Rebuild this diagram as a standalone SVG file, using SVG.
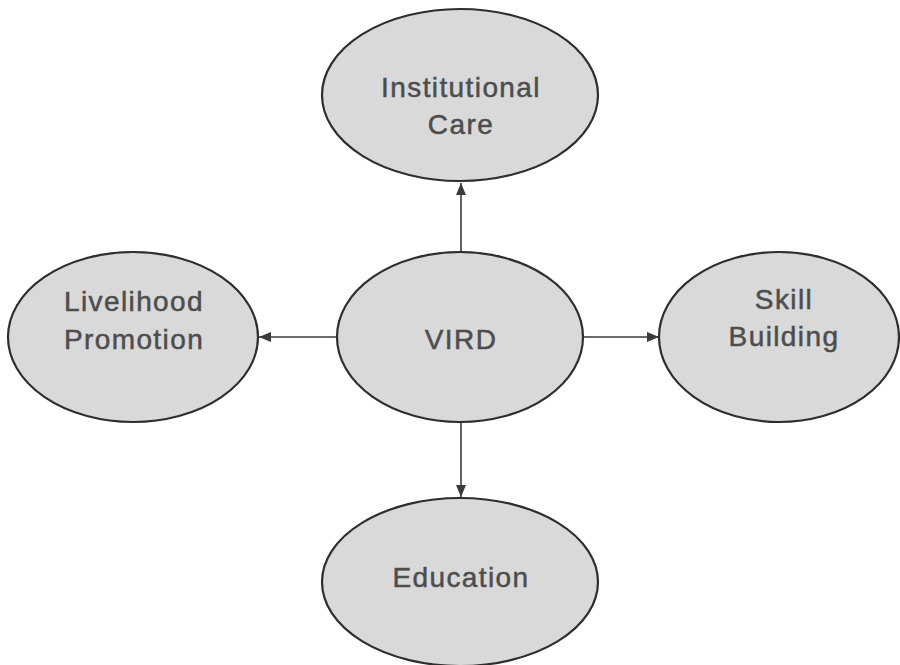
<svg xmlns="http://www.w3.org/2000/svg" width="900" height="665" viewBox="0 0 900 665">
<defs>
<marker id="ah" viewBox="0 0 12 10" refX="12" refY="5" markerWidth="12" markerHeight="10" markerUnits="userSpaceOnUse" orient="auto">
<path d="M0,0 L12,5 L0,10 Z" fill="#3a3a3a"/>
</marker>
</defs>
<style>
.node ellipse{fill:#d9d9d9;stroke:#2e2e2e;stroke-width:2.2}
.node text{font-family:"Liberation Sans",Arial,sans-serif;font-size:28px;fill:#4d4d4d;stroke:#4d4d4d;stroke-width:0.5;text-anchor:middle;letter-spacing:1.4px}
.conn line{stroke:#3a3a3a;stroke-width:1.6;marker-end:url(#ah)}
</style>
<rect width="900" height="665" fill="#fff"/>
<g class="conn" id="connectors">
<line x1="461" y1="252" x2="461" y2="183"/>
<line x1="337" y1="337" x2="259" y2="337"/>
<line x1="583" y1="337" x2="659" y2="337"/>
<line x1="461" y1="422" x2="461" y2="497"/>
</g>
<g class="node" id="institutional-care">
<ellipse cx="460" cy="95" rx="138" ry="86"/>
<text x="461" y="97">Institutional</text>
<text x="461" y="134">Care</text>
</g>
<g class="node" id="livelihood-promotion">
<ellipse cx="133" cy="337" rx="125" ry="85"/>
<text x="134" y="311">Livelihood</text>
<text x="134" y="349">Promotion</text>
</g>
<g class="node" id="vird">
<ellipse cx="460" cy="337" rx="123" ry="85"/>
<text x="461" y="349">VIRD</text>
</g>
<g class="node" id="skill-building">
<ellipse cx="779" cy="337" rx="120" ry="85"/>
<text x="784" y="309">Skill</text>
<text x="784" y="346">Building</text>
</g>
<g class="node" id="education">
<ellipse cx="460" cy="582" rx="138" ry="84"/>
<text x="461" y="587">Education</text>
</g>
</svg>
